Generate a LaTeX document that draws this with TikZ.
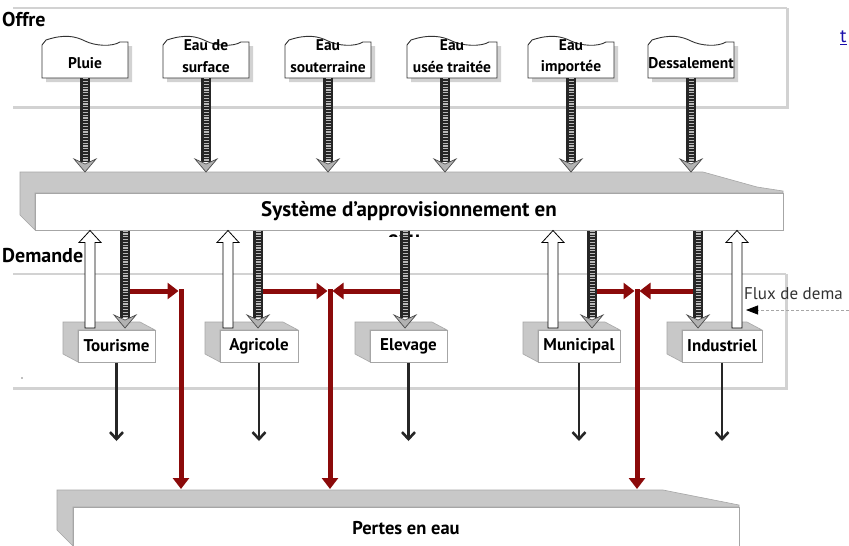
\documentclass[tikz,border=0pt]{standalone}
\usepackage{fontspec}
\setmainfont{PT Sans}
\usetikzlibrary{arrows.meta,calc}
\definecolor{darkred}{HTML}{8B0A0A}
\definecolor{slabgray}{HTML}{C8C8C8}
\definecolor{linkblue}{HTML}{1A0DAB}
\newcommand\signpath[1]{(-#1,78) -- (-#1,45) -- (-#1+4,40) .. controls (-#1+22,34) and (-10,36) .. (0,41) .. controls (10,46) and (#1-16,47) .. (#1-8,42) -- (#1,42) -- (#1,78) -- cycle}
\newcommand\signshape[3]{% name, cx, halfwidth
  \begin{scope}[shift={(#2,0)}]
    \begin{scope}[shift={(4,4)}]\fill[gray!35] \signpath{#3};\end{scope}
    \filldraw[fill=white, draw=black!80, line width=0.9pt] \signpath{#3};
    \node[signbox, minimum width=2*#3] (#1) at (0,60) {};
  \end{scope}}
\newcommand\signone[4]{\signshape{#1}{#2}{#3}%
  \node[signtxt] (#1-t) at (#2,63) {#4};}
\newcommand\signtwo[5]{\signshape{#1}{#2}{#3}%
  \node[signtxt] (#1-a) at (#2,45) {#4};
  \node[signtxt] (#1-b) at (#2,67) {#5};}
\newcommand\harrow[2]{%
  \draw[line width=10pt, black!85, shorten >=10pt] #1 -- #2;
  \draw[line width=5pt, gray!55, dash pattern=on 1.2pt off 1.6pt, shorten >=10pt] #1 -- #2;
  \draw[fill=gray!60, draw=black!70, line width=0.7pt] ($#2+(-11,-13)$) -- #2 -- ($#2+(11,-13)$) -- ($#2+(0,-8)$) -- cycle;}
\newcommand\warrow[2]{%
  \filldraw[fill=white, draw=black, line width=0.8pt] ($#1+(-5,0)$) -- ($#2+(-5,12)$) -- ($#2+(-11,12)$) -- #2 -- ($#2+(11,12)$) -- ($#2+(5,12)$) -- ($#1+(5,0)$) -- cycle;}
\newcommand\dbox[4]{%
  \fill[slab] (#2-15,322) -- (#3-15,322) -- (#3,330) -- (#2,330) -- (#2,362) -- (#2-15,354) -- cycle;
  \node[dfront, minimum width=#3-#2] (#1) at ({(#2+#3)/2},346) {#4};}
\begin{document}
\begin{tikzpicture}[x=1pt,y=-1pt,
  frame/.style={draw=gray!35, line width=3pt},
  signbox/.style={inner sep=0pt, minimum height=36pt},
  signtxt/.style={font=\bfseries\fontsize{15.5}{17}\selectfont, inner sep=0pt},
  slab/.style={fill=slabgray, draw=gray!70, line width=0.6pt},
  dfront/.style={draw=gray!70, fill=white, line width=1pt, inner sep=0pt, minimum height=32pt, font=\bfseries\fontsize{17}{19}\selectfont},
  systxt/.style={font=\bfseries\fontsize{21}{23}\selectfont},
  redarrow/.style={darkred, line width=5pt, -{Triangle[length=11pt,width=16pt]}},
  blackarrow/.style={black!85, line width=2.6pt, -{Straight Barb[length=7pt,width=13pt]}},
  title/.style={font=\bfseries\fontsize{20}{22}\selectfont, anchor=west, inner sep=0pt}]
\useasboundingbox (0,0) rectangle (849,546);
\fill[white] (0,0) rectangle (849,546);
% frames
\draw[draw=gray!35, line width=1.5pt] (13,8) -- (787,8);
\draw[frame] (787,8) -- (787,107) -- (13,107);
\draw[draw=gray!35, line width=1.5pt] (13,274) -- (786,274);
\draw[frame] (786,274) -- (786,388) -- (13,388);
\node[title] (offre) at (2,19) {Offre};
\node[title] (demande) at (2,256) {Demande};
\fill[gray] (22,378) circle (0.8);
% link fragment
\node[anchor=west, inner sep=0pt, text=linkblue, font=\fontsize{19}{21}\selectfont] (lien) at (840,38) {\underline{t}};
% signs
\signone{pluie}{85}{43}{Pluie}
\signtwo{surface}{206}{43}{Eau de}{surface}
\signtwo{sout}{328}{43}{Eau}{souterraine}
\signtwo{usee}{452}{45}{Eau}{usée traitée}
\signtwo{imp}{571}{43}{Eau}{importée}
\signone{dess}{691}{43}{Dessalement}
% supply system slab
\coordinate (systop) at (0,172);
\fill[slab] (20,172) -- (703,172) -- (757,187) -- (783,191) -- (783,193) -- (35,193) -- (35,230) -- (20,215) -- cycle;
\node[draw=gray!70, fill=white, line width=1pt, minimum width=748pt, minimum height=37pt, inner sep=0pt, systxt] (sys) at (409,211.5) {Système d’approvisionnement en};
\begin{scope}
  \clip (360,231) rectangle (450,236);
  \node[systxt] (eau) at (404,240) {eau};
\end{scope}
% supply arrows
\coordinate (usee-out) at ($(usee.south)+(-7,0)$);
\harrow{(pluie.south)}{(pluie.south |- systop)}
\harrow{(surface.south)}{(surface.south |- systop)}
\harrow{(sout.south)}{(sout.south |- systop)}
\harrow{(usee-out)}{(usee-out |- systop)}
\harrow{(imp.south)}{(imp.south |- systop)}
\harrow{(dess.south)}{(dess.south |- systop)}
% demand columns
\coordinate (tin) at (125,328); \coordinate (ain) at (258,328); \coordinate (ein) at (405,328);
\coordinate (min) at (592,328); \coordinate (iin) at (698,328);
\coordinate (tout) at (90,328); \coordinate (aout) at (228,328);
\coordinate (mout) at (553,328); \coordinate (iout) at (737,328);
\coordinate (r1) at (181,291); \coordinate (r2) at (330,291); \coordinate (r3) at (637,291);
\coordinate (ptop) at (0,489);
% red loss flows
\draw[redarrow, shorten >=2.5pt] (tin |- r1) -- (r1);
\draw[redarrow, shorten >=2.5pt] (ain |- r2) -- (r2);
\draw[redarrow, shorten >=2.5pt] (ein |- r2) -- (r2);
\draw[redarrow, shorten >=2.5pt] (min |- r3) -- (r3);
\draw[redarrow, shorten >=2.5pt] (iin |- r3) -- (r3);
\draw[redarrow] ($(r1)+(0,-2)$) -- (r1 |- ptop);
\draw[redarrow] ($(r2)+(0,-2)$) -- (r2 |- ptop);
\draw[redarrow] ($(r3)+(0,-2)$) -- (r3 |- ptop);
% demand boxes
\dbox{tour}{78}{155}{Tourisme}
\dbox{agri}{220}{298}{Agricole}
\dbox{elev}{370}{447}{Elevage}
\dbox{muni}{538}{620}{Municipal}
\dbox{indu}{682}{762}{Industriel}
% arrows system <-> demand
\harrow{(sys.south -| tin)}{(tin)}
\harrow{(sys.south -| ain)}{(ain)}
\harrow{(sys.south -| ein)}{(ein)}
\harrow{(sys.south -| min)}{(min)}
\harrow{(sys.south -| iin)}{(iin)}
\warrow{(tout)}{(tout |- sys.south)}
\warrow{(aout)}{(aout |- sys.south)}
\warrow{(mout)}{(mout |- sys.south)}
\warrow{(iout)}{(iout |- sys.south)}
% flux label
\node[anchor=west, inner sep=0pt, font=\fontsize{17}{19}\selectfont, text=black!80] (flux) at (744,294) {Flux de dema};
\coordinate (fluxstart) at (849,310); \coordinate (fluxend) at (746,310);
\draw[gray!70, line width=0.8pt, densely dashed, -{Triangle[length=12pt,width=9pt,color=black]}] (fluxstart) -- (fluxend);
% black outflow arrows
\coordinate (bend) at (0,441);
\foreach \n in {tour,agri,elev,muni,indu}{\draw[blackarrow] (\n.south) -- (\n.south |- bend);}
% losses slab
\fill[slab] (57,490) -- (663,490) -- (739,505) -- (739,507) -- (73,507) -- (73,546) -- (57,530) -- cycle;
\node[draw=gray!70, fill=white, line width=1pt, minimum width=666pt, minimum height=42pt, inner sep=0pt, font=\bfseries\fontsize{18.5}{20}\selectfont] (pertes) at (406,528) {Pertes en eau};
\end{tikzpicture}
\end{document}
